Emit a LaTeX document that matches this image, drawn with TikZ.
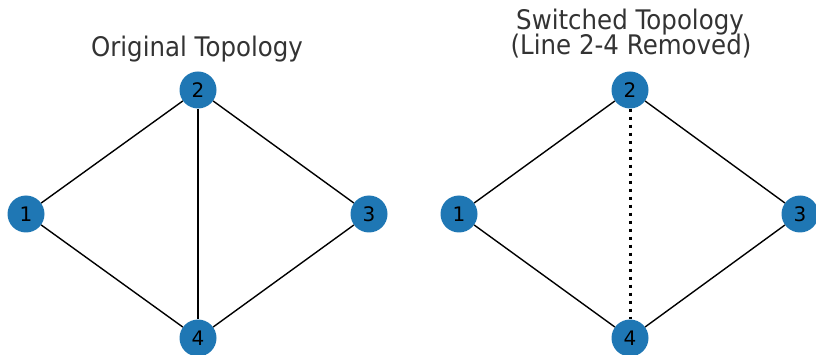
\documentclass[tikz,border=0pt]{standalone}
\usepackage{fontspec}
\setmainfont{DejaVu Sans}
\usepackage{xcolor}
\usetikzlibrary{positioning}
\definecolor{busblue}{HTML}{1F77B4}
\tikzset{
	bus/.style = {
			circle,
			fill          = busblue,
			minimum size  = 37pt,
			inner sep     = 0pt,
			font          = \fontsize{20}{22}\selectfont,
		},
	line/.style = {draw=black, line width=1.4pt},
	removed/.style = {draw=black, line width=3pt, dash pattern=on 3pt off 5pt},
	title/.style = {font=\fontsize{24.5}{24}\selectfont, text=black!80, align=center, anchor=base, yscale=1.1, transform shape},
}

\begin{document}
\begin{tikzpicture}[x=1pt,y=-1pt]
	% Page frame
	\useasboundingbox (0,0) rectangle (816,355);

	% Original topology
	\node[title] (t1) at (197,57) {Original Topology};
	\node[bus] (a1) at (26,214) {1};
	\node[bus] (a2) at (198,90) {2};
	\node[bus] (a3) at (369,214) {3};
	\node[bus] (a4) at (198,338) {4};
	\draw[line] (a1) -- (a2) -- (a3) -- (a4) -- (a1);
	\draw[line] (a2) -- (a4);

	% Switched topology
	\node[title] (t2) at (630,30) {Switched Topology};
	\node[title] (t3) at (631,55) {(Line 2-4 Removed)};
	\node[bus] (b1) at (459,214) {1};
	\node[bus] (b2) at (630,90) {2};
	\node[bus] (b3) at (800,214) {3};
	\node[bus] (b4) at (630,338) {4};
	\draw[line] (b1) -- (b2) -- (b3) -- (b4) -- (b1);
	\draw[removed] (b2) -- (b4);
\end{tikzpicture}
\end{document}
